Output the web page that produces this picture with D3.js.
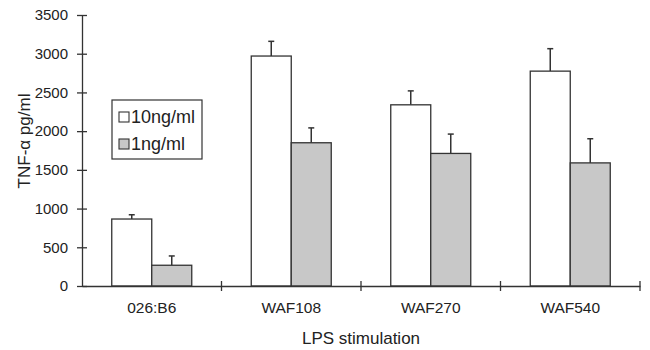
<!DOCTYPE html>
<html><head><meta charset="utf-8">
<script src="https://cdn.jsdelivr.net/npm/d3@7"></script>
<style>body{margin:0;background:#fff}svg{display:block}text{font-family:"Liberation Sans",Arial,sans-serif;fill:#222}</style>
</head><body><svg id="c" width="650" height="350"></svg>
<script>
const categories = ["026:B6","WAF108","WAF270","WAF540"];
const seriesNames = ["10ng/ml","1ng/ml"];
const values10 = [865, 2970, 2340, 2775];
const errors10 = [55, 190, 180, 290];
const values1 = [268, 1850, 1712, 1590];
const errors1 = [120, 192, 250, 312];
const yTicks = [0,500,1000,1500,2000,2500,3000,3500];
const colors = ["#ffffff","#c8c8c8"];
const stroke = "#333";

const svg = d3.select("#c");
const x0 = 82, x1 = 640, yTop = 15, yBot = 286;
const x = d3.scaleBand().domain(categories).range([x0,x1]).paddingInner(0).paddingOuter(0);
const y = d3.scaleLinear().domain([0,3500]).range([yBot,yTop]);
const barW = 40;
const FONT = "Liberation Sans, Arial, sans-serif";

const data = categories.map((c,i)=>({c, vals:[{v:values10[i],e:errors10[i],s:0},{v:values1[i],e:errors1[i],s:1}]}));

const g = svg.append("g");
data.forEach(d=>{
  const cx = x(d.c)+x.bandwidth()/2;
  d.vals.forEach(b=>{
    const bx = cx + (b.s===0 ? -barW : 0);
    const mid = bx + barW/2;
    g.append("line").attr("x1",mid).attr("x2",mid).attr("y1",y(b.v)).attr("y2",y(b.v+b.e)).attr("stroke",stroke).attr("stroke-width",1.5);
    g.append("line").attr("x1",mid-3).attr("x2",mid+3).attr("y1",y(b.v+b.e)).attr("y2",y(b.v+b.e)).attr("stroke",stroke).attr("stroke-width",1.5);
    g.append("rect").attr("x",bx).attr("y",y(b.v)).attr("width",barW).attr("height",y(0)-y(b.v))
      .attr("fill",colors[b.s]).attr("stroke",stroke).attr("stroke-width",1.3);
  });
});

const ya = svg.append("g").attr("transform",`translate(${x0},0)`)
  .call(d3.axisLeft(y).tickValues(yTicks).tickFormat(d3.format("d")).tickSizeInner(5).tickSizeOuter(0).tickPadding(9));
ya.selectAll(".tick line").attr("x2",5).attr("x1",-5).attr("stroke",stroke).attr("stroke-width",1.3);
ya.select(".domain").attr("stroke",stroke).attr("stroke-width",1.3);
ya.selectAll("text").attr("font-size",15).attr("fill","#222").style("font-family",FONT);

const xa = svg.append("g").attr("transform",`translate(0,${yBot})`)
  .call(d3.axisBottom(x).tickSize(0).tickPadding(16));
xa.select(".domain").attr("stroke",stroke).attr("stroke-width",1.3);
xa.selectAll("text").attr("font-size",15.5).attr("fill","#222").style("font-family",FONT);
const bounds = categories.map(c=>x(c)+x.bandwidth());
svg.append("g").selectAll("line").data(bounds).join("line")
  .attr("x1",d=>d).attr("x2",d=>d).attr("y1",yBot-5).attr("y2",yBot+5).attr("stroke",stroke).attr("stroke-width",1.3);

svg.append("text").attr("x",361).attr("y",344).attr("text-anchor","middle").attr("font-size",17).text("LPS stimulation");
svg.append("text").attr("transform","translate(30,141) rotate(-90)").attr("text-anchor","middle").attr("font-size",17).text("TNF-α pg/ml");

const lg = svg.append("g");
lg.append("rect").attr("x",112).attr("y",100).attr("width",90).attr("height",59).attr("fill","#fff").attr("stroke",stroke).attr("stroke-width",1.2);
seriesNames.forEach((n,i)=>{
  const cy = 117 + i*27;
  lg.append("rect").attr("x",119).attr("y",cy-5).attr("width",10).attr("height",10).attr("fill",colors[i]).attr("stroke",stroke).attr("stroke-width",1.1);
  lg.append("text").attr("x",131).attr("y",cy+6).attr("font-size",18).text(n);
});
</script></body></html>
